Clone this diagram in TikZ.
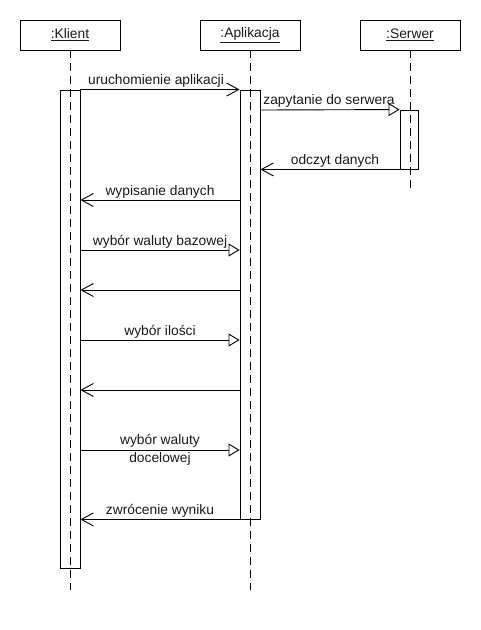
\documentclass[tikz,border=0pt]{standalone}
\usepackage{fontspec}
\setmainfont{Liberation Sans}
\usetikzlibrary{arrows.meta}
\begin{document}
\begin{tikzpicture}[x=1pt,y=-1pt,
  every node/.style={font=\fontsize{13.8}{17.5}\selectfont, text=black!90},
  hdr/.style={draw, line width=0.9pt, minimum width=100pt, minimum height=30pt, inner sep=0pt},
  act/.style={draw, line width=0.9pt, minimum width=20pt, inner sep=0pt},
  life/.style={line width=0.9pt, dash pattern=on 8pt off 5pt},
  call/.style={line width=0.9pt, -{Straight Barb[length=12pt,width=13pt]}},
  ret/.style={line width=0.9pt, -{Straight Barb[length=12pt,width=13pt]}},
  sync/.style={line width=0.9pt, -{Triangle[open,length=11pt,width=13pt]}},
  lbl/.style={above, inner sep=1.5pt}]
\useasboundingbox (0,0) rectangle (480,630);
% headers
\node[hdr] (klient) at (70,35) {\underline{:Klient}};
\node[hdr] (aplik) at (250,35) {\underline{:Aplikacja}};
\node[hdr] (serwer) at (410,35) {\underline{:Serwer}};
% lifeline ends
\coordinate (kEnd) at (70,590);
\coordinate (aEnd) at (250,590);
\coordinate (sEnd) at (410,188);
\draw[life] (klient.south) -- (kEnd);
\draw[life] (aplik.south) -- (aEnd);
\draw[life] (serwer.south) -- (sEnd);
% activations
\node[act, minimum height=478pt] (kAct) at (70,329) {};
\node[act, minimum height=429pt] (aAct) at (250,304.5) {};
\node[act, minimum width=18pt, minimum height=59pt] (sAct) at (409,139.5) {};
% message levels
\coordinate (y110) at (0,110);
\coordinate (y200) at (0,200);
\coordinate (y250) at (0,250);
\coordinate (y290) at (0,290);
\coordinate (y340) at (0,340);
\coordinate (y390) at (0,390);
\coordinate (y450) at (0,450);
% messages
\draw[call] (kAct.north east) -- (aAct.north west) node[lbl, midway, xshift=-4pt] {uruchomienie aplikacji};
\draw[sync] (aAct.east |- y110) -- (sAct.north west) node[lbl, midway, xshift=-1pt] {zapytanie do serwera};
\draw[ret] (sAct.south west) -- (aAct.east |- sAct.south) node[lbl, midway, xshift=5pt] {odczyt danych};
\draw[ret] (aAct.west |- y200) -- (kAct.east |- y200) node[lbl, midway] {wypisanie danych};
\draw[sync] (kAct.east |- y250) -- (aAct.west |- y250) node[lbl, midway] {wybór waluty bazowej};
\draw[ret] (aAct.west |- y290) -- (kAct.east |- y290);
\draw[sync] (kAct.east |- y340) -- (aAct.west |- y340) node[lbl, midway] {wybór ilości};
\draw[ret] (aAct.west |- y390) -- (kAct.east |- y390);
\draw[sync] (kAct.east |- y450) -- (aAct.west |- y450) node[midway, align=center, inner sep=0pt] {wybór waluty\\docelowej};
\draw[ret] (aAct.south west) -- (kAct.east |- aAct.south) node[lbl, midway] {zwrócenie wyniku};
\end{tikzpicture}
\end{document}
